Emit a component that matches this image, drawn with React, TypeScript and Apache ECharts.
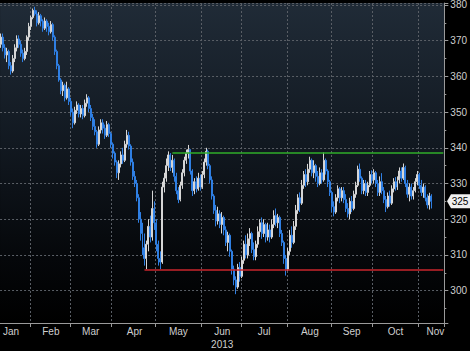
import React, { useEffect, useRef } from "react";
import * as echarts from "echarts";

// Daily candles [open, close, low, high], 2013
const jan = [
  [369, 371, 368, 372], [371, 368, 367, 372], [368, 366, 365, 369], [366, 367, 364, 368], [367, 363, 362, 367.5],
  [363, 361.5, 360.5, 364], [361.5, 365, 361, 366], [365, 368, 364, 369], [368, 370.5, 367, 371.5], [370.5, 369, 368, 371.5],
  [369, 366.5, 365.5, 370], [366.5, 365, 364, 367.5], [365, 367, 364.5, 368], [367, 371, 366, 371.5], [371, 374, 370, 375],
];
const feb = [
  [374, 376.5, 373, 377], [376.5, 378.5, 376, 379], [378.5, 377.5, 377, 379.5], [377.5, 375, 374, 378.5], [375, 377, 374.5, 378],
  [377, 375.5, 374, 377.5], [375.5, 373.5, 372.5, 376], [373.5, 375.5, 373, 376.5], [375.5, 374, 372.5, 376], [374, 372.5, 371.5, 375],
  [372.5, 374.5, 372, 375.5], [374.5, 371, 370, 375], [371, 367, 366, 371.5], [367, 363, 362, 367.5], [363, 359, 358.5, 363.5],
  [359, 356, 355, 359.5], [356, 357.5, 354.5, 358.5], [357.5, 354, 353, 358], [354, 356.5, 353.5, 358.5], [356.5, 353, 352, 357],
];
const mar = [
  [353, 350, 349, 354], [350, 347, 345.5, 351], [347, 350.5, 346.5, 351.5], [350.5, 352, 349.5, 353], [352, 349.5, 348.5, 352.5],
  [349.5, 351, 348.5, 352], [351, 349, 348, 352], [349, 352.5, 348.5, 353.5], [352.5, 354, 351.5, 355], [354, 351, 350, 354.5],
  [351, 348.5, 347.5, 352], [348.5, 346, 345, 349.5], [346, 344.5, 343.5, 348], [344.5, 341, 340, 345], [341, 345, 340.5, 346],
  [345, 347, 344, 348], [347, 345.5, 344, 348], [345.5, 343.5, 342.5, 346.5], [343.5, 346.5, 343, 347.5], [346.5, 344, 343, 347],
  [344, 341, 340, 344.5],
];
const apr = [
  [341, 338.5, 337, 341.5], [338.5, 336, 335, 339], [336, 333, 331.5, 336.5], [333, 335.5, 331, 336.5], [335.5, 338, 334.5, 339],
  [338, 336.5, 335.5, 340], [336.5, 341, 336, 342], [341, 343.5, 340, 345], [343.5, 340.5, 339.5, 344.5], [340.5, 336, 335, 341],
  [336, 332, 331, 337], [332, 330, 329, 333.5], [330, 326, 325, 331], [326, 320, 319, 327], [320, 316, 314, 322],
  [316, 312, 310, 319], [312, 309, 307, 316], [309, 313, 306, 314], [313, 318, 311, 320], [318, 315, 313.5, 321],
  [315, 323, 314, 328], [323, 319, 317, 325],
];
const may = [
  [319, 313, 311, 320], [313, 309, 307, 314], [309, 308, 306, 311], [308, 329, 307.5, 330.5], [329, 331.5, 327.5, 333],
  [331.5, 335, 330.5, 337], [335, 338, 333.5, 339], [338, 334.5, 333.5, 338.5], [334.5, 336.5, 333, 338], [336.5, 332, 330.5, 337],
  [332, 328, 327, 333], [328, 325.5, 324.5, 329], [325.5, 329.5, 325, 330.5], [329.5, 333, 328.5, 334], [333, 336.5, 332, 337.5],
  [336.5, 338.5, 335.5, 339.5], [338.5, 339.5, 337, 340.8], [339.5, 333.5, 332.5, 339.5], [333.5, 328, 326.5, 334], [328, 330.5, 327, 331.5],
  [330.5, 328.5, 327.5, 332], [328.5, 331.5, 328, 333], [331.5, 329, 328, 332.5],
];
const jun = [
  [329, 332.5, 328.5, 333.5], [332.5, 336, 331.5, 337], [336, 339, 335, 340], [339, 335, 334, 339.5], [335, 331, 330, 335.5],
  [331, 326.5, 325.5, 332], [326.5, 322.5, 321.5, 327], [322.5, 319.5, 318, 324], [319.5, 321.5, 318.5, 323.5], [321.5, 318.5, 317.5, 322.5],
  [318.5, 320.5, 316, 322], [320.5, 317, 315.5, 321], [317, 313.5, 312.5, 318], [313.5, 315.5, 311, 316.5], [315.5, 311, 309.5, 316],
  [311, 306, 304.5, 311.5], [306, 303, 301.5, 307], [303, 301, 299, 304], [301, 306.5, 300.5, 307.5], [306.5, 304, 302.5, 308],
];
const jul = [
  [304, 308.5, 303.5, 309.5], [308.5, 313, 307.5, 314], [313, 310, 309, 315.5], [310, 314.5, 309, 316], [314.5, 316, 312.5, 317.5],
  [316, 311.5, 310.5, 316.5], [311.5, 309.5, 308.5, 313.5], [309.5, 313, 308.5, 314], [313, 316.5, 312, 318], [316.5, 319, 315, 320],
  [319, 316, 314.5, 320.5], [316, 318.5, 315, 320], [318.5, 315, 313.5, 319], [315, 317, 314, 319], [317, 315, 313.5, 318.5],
  [315, 318.5, 314.5, 320], [318.5, 321, 317.5, 322.5], [321, 319, 318, 323], [319, 320.5, 317.5, 321.5], [320.5, 316, 315, 321],
  [316, 313.5, 312.5, 317], [313.5, 309, 307.5, 314], [309, 306, 304.2, 310],
];
const aug = [
  [306, 311, 305.5, 312], [311, 315.5, 310, 317], [315.5, 313.5, 312, 318], [313.5, 318, 313, 319.5], [318, 322.5, 317, 324],
  [322.5, 326, 321.5, 327], [326, 324.5, 322, 327.5], [324.5, 329.5, 324, 331], [329.5, 332.5, 328.5, 333.5], [332.5, 330.5, 329, 334],
  [330.5, 334, 329.5, 335.5], [334, 336.5, 333, 337.5], [336.5, 333, 332, 337], [333, 335, 331.5, 336.5], [335, 332, 330.5, 335.5],
  [332, 330, 329, 333.5], [330, 333, 329.5, 334.5], [333, 331, 330, 334], [331, 336.5, 330.5, 338.7], [336.5, 333.5, 332.5, 337],
  [333.5, 330.5, 329, 334], [330.5, 327.5, 326.5, 331],
];
const sep = [
  [327.5, 323.5, 322, 328], [323.5, 322, 320.8, 325], [322, 326, 321.5, 327], [326, 328.5, 325, 329.5], [328.5, 326, 324.5, 329],
  [326, 328, 325, 329], [328, 325.5, 324.5, 329], [325.5, 323, 322, 327], [323, 321.5, 320.5, 324.5], [321.5, 325, 320, 326],
  [325, 323, 322, 326.5], [323, 327, 322.5, 328], [327, 329.5, 326, 330.5], [329.5, 334, 329, 335], [334, 331.5, 330.5, 335.6],
  [331.5, 328, 327, 332], [328, 330, 327, 331], [330, 327.5, 326.5, 331], [327.5, 329.5, 326.5, 330.5], [329.5, 332.5, 329, 333.5],
  [332.5, 331, 330, 333.7],
];
const oct = [
  [331, 333, 330, 334], [333, 330, 329, 333.5], [330, 327.5, 326.5, 331], [327.5, 330.5, 326.5, 332], [330.5, 328, 327, 332.9],
  [328, 325.5, 324.5, 329], [325.5, 323.5, 322, 326.5], [323.5, 326.5, 323, 327.5], [326.5, 324.5, 323.5, 328], [324.5, 328.5, 324, 329.5],
  [328.5, 330.5, 327.5, 331.5], [330.5, 329, 328, 331.8], [329, 331, 328.2, 332], [331, 333.5, 330, 334.5], [333.5, 331.5, 330.5, 334.5],
  [331.5, 334.5, 331, 335.6], [334.5, 330, 329, 335], [330, 327, 326, 331], [327, 329, 325, 330], [329, 326.5, 325.5, 330],
  [326.5, 328, 325.5, 329], [328, 330.5, 327.5, 331.5], [330.5, 332.5, 329.5, 333.5],
];
const nov = [
  [332.5, 329.5, 328.5, 333], [329.5, 327.5, 326.5, 331], [327.5, 329, 326, 330], [329, 326, 325, 329.5], [326, 324, 323, 327],
  [324, 326.5, 322.7, 327.4], [326.5, 325, 323, 327],
];

const FIRST_DAY = "2013-01-11";
const LAST_DAY = "2013-11-19";
const monthNames = ["Jan", "Feb", "Mar", "Apr", "May", "Jun", "Jul", "Aug", "Sep", "Oct", "Nov", "Dec"];
const labelDates = ["2013-01-18", "2013-02-15", "2013-03-15", "2013-04-16", "2013-05-16", "2013-06-17", "2013-07-16", "2013-08-16", "2013-09-16", "2013-10-16", "2013-11-13"];
const yearLabelMonth = 5; // Jun
const yearText = "2013";
const resistanceLevel = 338.7;
const resistanceStart = "2013-05-13";
const supportLevel = 305.9;
const supportStart = "2013-04-23";

const GRID_RIGHT = 24;
const GRID_BOTTOM = 25;
const Y_MIN = 290.93;
const Y_MAX = 380.55;

function weekdays(start: string, end: string): string[] {
  const out: string[] = [];
  const d = new Date(start + "T00:00:00Z");
  const e = new Date(end + "T00:00:00Z");
  while (d <= e) {
    const w = d.getUTCDay();
    if (w !== 0 && w !== 6) out.push(d.toISOString().slice(0, 10));
    d.setUTCDate(d.getUTCDate() + 1);
  }
  return out;
}

export default function App() {
  const ref = useRef<HTMLDivElement>(null);
  useEffect(() => {
    if (!ref.current) return;
    const chart = echarts.init(ref.current, null, { renderer: "svg" });
    const cats = weekdays(FIRST_DAY, LAST_DAY);
    const candles: any[] = [...jan, ...feb, ...mar, ...apr, ...may, ...jun, ...jul, ...aug, ...sep, ...oct, ...nov];
    const data = cats.map((_, i) => (i < candles.length ? candles[i] : "-"));
    const lastClose = candles[candles.length - 1][1];
    const monthOf = (s?: string) => (s ? parseInt(s.slice(5, 7), 10) - 1 : -1);
    const isMonthStart = (index: number) =>
      index > 0 && index < cats.length && monthOf(cats[index]) !== monthOf(cats[index - 1]);
    const labelColor = "#cfcfcf";
    const axisColor = "#9a9a9a";
    const font = "Liberation Sans, Arial, sans-serif";

    chart.setOption({
      animation: false,
      backgroundColor: "#000000",
      grid: {
        left: 0,
        right: GRID_RIGHT,
        top: 0,
        bottom: GRID_BOTTOM,
        show: true,
        borderWidth: 0,
        backgroundColor: new echarts.graphic.LinearGradient(0, 0, 0, 1, [
          { offset: 0, color: "#202b37" },
          { offset: 0.45, color: "#111820" },
          { offset: 0.8, color: "#05070a" },
          { offset: 1, color: "#000000" },
        ]),
      },
      xAxis: {
        type: "category",
        data: cats,
        boundaryGap: true,
        axisLine: { show: true, lineStyle: { color: axisColor, width: 1 } },
        axisTick: { show: true, length: 4, interval: (i: number) => isMonthStart(i), lineStyle: { color: axisColor } },
        splitLine: {
          show: true,
          interval: (i: number) => isMonthStart(i),
          lineStyle: { color: "#5a5f66", type: [2, 2], width: 1 },
        },
        axisLabel: {
          show: true,
          interval: (_i: number, v: string) => labelDates.indexOf(v) >= 0,
          formatter: (v: string) => {
            const m = monthOf(v);
            return m === yearLabelMonth ? monthNames[m] + "\n" + yearText : monthNames[m];
          },
          color: labelColor,
          fontSize: 10,
          fontFamily: font,
          lineHeight: 13,
          margin: 2,
        },
      },
      yAxis: {
        type: "value",
        position: "right",
        min: Y_MIN,
        max: Y_MAX,
        splitNumber: 9,
        axisLine: { show: true, lineStyle: { color: axisColor, width: 1 } },
        axisTick: { show: true, inside: false, length: 4, lineStyle: { color: axisColor } },
        minorTick: { show: true, splitNumber: 2, length: 2, lineStyle: { color: axisColor } },
        splitLine: { show: true, lineStyle: { color: "#5a5f66", type: [2, 2], width: 1 } },
        axisLabel: {
          show: true,
          showMinLabel: false,
          showMaxLabel: false,
          formatter: (v: number) => (Math.abs(v % 10) < 1e-6 ? String(v) : ""),
          color: labelColor,
          fontSize: 10,
          fontFamily: font,
          margin: 6,
        },
      },
      series: [
        {
          type: "candlestick",
          data,
          barWidth: "75%",
          itemStyle: {
            color: "#d6d6d6",
            color0: "#2f7fe3",
            borderColor: "#d6d6d6",
            borderColor0: "#2f7fe3",
            borderWidth: 1,
          },
          markLine: {
            silent: true,
            symbol: "none",
            label: { show: false },
            data: [
              [
                { coord: [resistanceStart, resistanceLevel], lineStyle: { color: "#2fae2a", width: 1.5, type: "solid" } },
                { coord: [cats[cats.length - 1], resistanceLevel] },
              ],
              [
                { coord: [supportStart, supportLevel], lineStyle: { color: "#c8262c", width: 1.5, type: "solid" } },
                { coord: [cats[cats.length - 1], supportLevel] },
              ],
            ],
          },
        },
      ],
    });

    const y = chart.convertToPixel({ yAxisIndex: 0 }, lastClose) as number;
    const ax = chart.getWidth() - GRID_RIGHT;
    chart.setOption({
      graphic: [
        {
          type: "polygon",
          z: 100,
          shape: { points: [[ax + 1, y], [ax + 5, y - 7], [ax + 26, y - 7], [ax + 26, y + 7], [ax + 5, y + 7]] },
          style: { fill: "#f0f0f0" },
        },
        {
          type: "text",
          z: 101,
          x: ax + 14,
          y: y,
          style: {
            text: String(lastClose),
            fill: "#000000",
            font: "10px Liberation Sans, Arial, sans-serif",
            align: "center",
            verticalAlign: "middle",
          },
        },
      ],
    });

    return () => chart.dispose();
  }, []);
  return <div ref={ref} style={{ position: "fixed", left: 0, top: 0, width: 470, height: 351 }} />;
}
